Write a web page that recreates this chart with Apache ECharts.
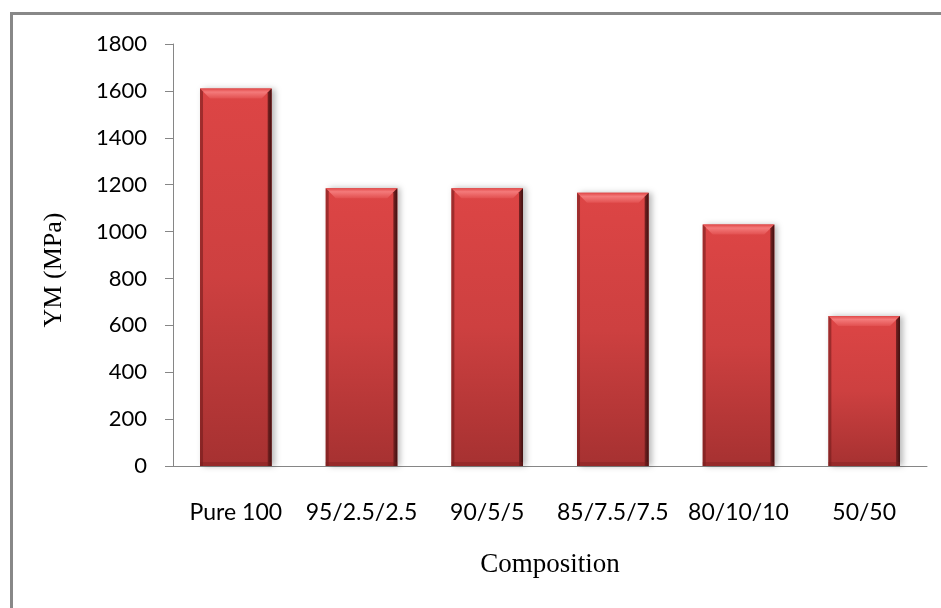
<!DOCTYPE html>
<html>
<head>
<meta charset="utf-8">
<script src="https://cdn.jsdelivr.net/npm/echarts@6/dist/echarts.min.js"></script>
<style>
  html, body { margin: 0; padding: 0; background: #fff; }
  #frame { position: absolute; left: 10px; top: 12px; width: 940px; height: 600px;
           border-left: 3px solid #888; border-top: 3px solid #888; box-sizing: border-box; }
  #chart { width: 941px; height: 608px; position: absolute; left: 0; top: 0; }
</style>
</head>
<body>
<div id="frame"></div>
<div id="chart"></div>
<script>
// Young's modulus per blend composition
const categories = ['Pure 100', '95/2.5/2.5', '90/5/5', '85/7.5/7.5', '80/10/10', '50/50'];
const modulus = [1610, 1185, 1185, 1165, 1030, 640];
const yTicks = { min: 0, max: 1800, interval: 200 };

const chart = echarts.init(document.getElementById('chart'), null, { renderer: 'canvas' });

const barFill = new echarts.graphic.LinearGradient(0, 0, 0, 1, [
  { offset: 0, color: '#dd4545' },
  { offset: 0.5, color: '#cd4040' },
  { offset: 1, color: '#a63131' }
]);

// bevel decoration on top of each bar: light top facet, dark right edge, soft left edge
function renderBevel(params, api) {
  const top = api.coord([api.value(0), api.value(1)]);
  const base = api.coord([api.value(0), 0]);
  const w = api.size([1, 0])[0] * 0.57;
  const x0 = top[0] - w / 2, x1 = top[0] + w / 2;
  const y0 = top[1], y1 = base[1];
  const b = 10;
  return {
    type: 'group',
    children: [
      { type: 'polygon', shape: { points: [[x0, y0], [x1, y0], [x1 - b, y0 + b], [x0 + b, y0 + b]] },
        style: { fill: new echarts.graphic.LinearGradient(0, 0, 0, 1, [
          { offset: 0, color: '#e04848' }, { offset: 0.35, color: '#f47a7a' }, { offset: 1, color: '#e25050' }]) } },
      { type: 'polygon', shape: { points: [[x1 - 4, y0 + 4], [x1, y0], [x1, y1], [x1 - 4, y1]] },
        style: { fill: new echarts.graphic.LinearGradient(0, 0, 1, 0, [
          { offset: 0, color: '#7a2222' }, { offset: 1, color: '#3e1010' }]) } },
      { type: 'polygon', shape: { points: [[x0, y0], [x0 + 3, y0 + 3], [x0 + 3, y1], [x0, y1]] },
        style: { fill: 'rgba(110,25,25,0.55)' } },
      { type: 'rect', shape: { x: x0, y: y1 - 4, width: w, height: 4 },
        style: { fill: 'rgba(120,30,30,0.35)' } }
    ]
  };
}

chart.setOption({
  animation: false,
  backgroundColor: 'transparent',
  grid: { left: 173, right: 14, top: 44, bottom: 142 },
  xAxis: {
    type: 'category',
    data: categories,
    name: 'Composition',
    nameLocation: 'middle',
    nameGap: 85,
    nameTextStyle: { fontFamily: 'Liberation Serif', fontSize: 27, color: '#000' },
    axisLine: { lineStyle: { color: '#868686', width: 1 } },
    axisTick: { show: false },
    axisLabel: { fontFamily: 'Lato', fontSize: 23, color: '#000', margin: 35, interval: 0, hideOverlap: false }
  },
  yAxis: {
    type: 'value',
    min: yTicks.min,
    max: yTicks.max,
    interval: yTicks.interval,
    name: 'YM (MPa)',
    nameLocation: 'middle',
    nameGap: 106,
    nameRotate: 90,
    nameTextStyle: { fontFamily: 'Liberation Serif', fontSize: 26, color: '#000', padding: [0, 30, 0, 0] },
    axisLine: { show: true, lineStyle: { color: '#868686', width: 1 } },
    axisTick: { show: true, inside: false, length: 8, lineStyle: { color: '#868686' } },
    axisLabel: { fontFamily: 'Lato', fontSize: 22, color: '#000', margin: 26, formatter: v => String(v) },
    splitLine: { show: false }
  },
  series: [{
    type: 'bar',
    data: modulus,
    barWidth: '57%',
    itemStyle: {
      color: barFill,
      shadowColor: 'rgba(0,0,0,0.28)',
      shadowBlur: 6,
      shadowOffsetX: 3,
      shadowOffsetY: 0
    }
  }, {
    type: 'custom',
    data: modulus.map((v, i) => [i, v]),
    renderItem: renderBevel,
    silent: true,
    z: 3
  }]
});
</script>
</body>
</html>
